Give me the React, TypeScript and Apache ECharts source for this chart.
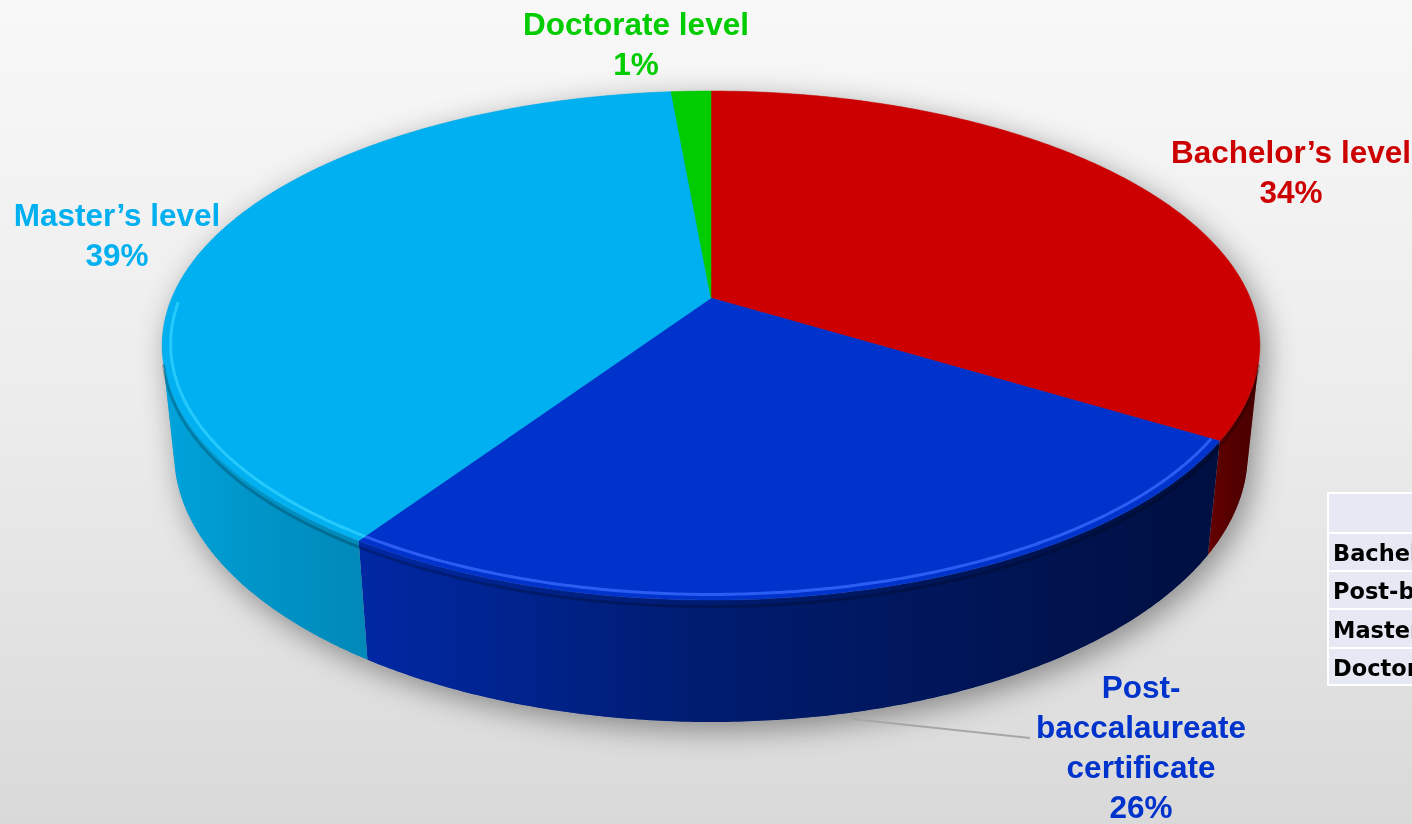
import React, { useEffect, useRef } from "react";
import * as echarts from "echarts";

// ---- data ----
const categories = ["Bachelor’s level", "Post-baccalaureate certificate", "Master’s level", "Doctorate level"];
const shares = [33.8, 25.5, 39.3, 1.4];
const labelLines = [["Bachelor’s level"], ["Post-", "baccalaureate", "certificate"], ["Master’s level"], ["Doctorate level"]];
const tableRows = ["Bachelor’s level", "Post-baccalaureate certificate", "Master’s level", "Doctorate level"];

// ---- styles / layout ----
const topColors = ["#CC0000", "#0033CC", "#00B0F0", "#00CC00"];
const labelColors = ["#CC0000", "#0033CC", "#00B0F0", "#00CC00"];
const edgeColors = ["#B80000", "#3A6CFF", "#30D0FF", "#40E040"];
const edgeOpacity = [0.0, 0.75, 0.8, 0.6];
const wallStops = [
  ["#660000", "#560000", "#480000"],
  ["#0028A4", "#001C70", "#000F40"],
  ["#00A4DC", "#0096CA", "#0088B8"],
  ["#00A000", "#009000", "#008000"],
];
const labelAnchors = [
  [1291, 132],
  [1141, 667],
  [117, 195],
  [636, 4],
];

// perspective parameters
const CX = 711, CY = 298, F = 2571, D = 4.768, SA = 0.4555, CA = Math.sqrt(1 - 0.4555 * 0.4555), H = 0.2258;
const TWO_PI = Math.PI * 2;
const VIS1 = Math.acos(-1 / (D * CA));
const VIS2 = TWO_PI - VIS1;

const total = shares.reduce((a, b) => a + b, 0);
const starts = shares.map((_, i) => shares.slice(0, i).reduce((a, b) => a + b, 0));

function proj(theta: number, y: number, r = 1): number[] {
  const X = r * Math.sin(theta);
  const Z = r * Math.cos(theta);
  const yp = y * CA + Z * SA;
  const d = Z * CA - y * SA;
  const k = F / (D + d);
  return [CX + X * k, CY - yp * k];
}

function arc(t1: number, t2: number, y: number, r = 1): number[][] {
  const n = Math.max(2, Math.ceil(Math.abs(t2 - t1) / (Math.PI / 360)));
  const pts: number[][] = [];
  for (let i = 0; i <= n; i++) {
    const t = t1 + ((t2 - t1) * i) / n;
    pts.push(proj(t, y, r));
  }
  return pts;
}

function sliceAngles(i: number, v: number) {
  const t1 = (starts[i] / total) * TWO_PI;
  const t2 = t1 + (v / total) * TWO_PI;
  return [t1, t2];
}

export default function App() {
  const ref = useRef<HTMLDivElement>(null);

  useEffect(() => {
    if (!ref.current) return;
    const chart = echarts.init(ref.current, undefined, { renderer: "svg" });

    const silhouette = [...arc(VIS2 - TWO_PI, VIS1, 0), ...arc(VIS1, VIS2, -H)];

    const graphics: any[] = [
      {
        type: "rect",
        z: 0,
        silent: true,
        shape: { x: 0, y: 0, width: 1412, height: 824 },
        style: {
          fill: new echarts.graphic.LinearGradient(0, 0, 0, 1, [
            { offset: 0, color: "#f8f8f8" },
            { offset: 0.5, color: "#ececec" },
            { offset: 1, color: "#d9d9d9" },
          ]),
        },
      },
      {
        type: "polygon",
        z: 1,
        silent: true,
        shape: { points: silhouette },
        style: {
          fill: "#9a9a9a",
          shadowBlur: 30,
          shadowColor: "rgba(0,0,0,0.4)",
          shadowOffsetX: 6,
          shadowOffsetY: 8,
        },
      },
      {
        type: "line",
        z: 5,
        silent: true,
        shape: { x1: 852, y1: 719, x2: 1030, y2: 738 },
        style: { stroke: "#a6a6a6", lineWidth: 2 },
      },
    ];

    labelLines.forEach((lines, i) => {
      const pct = Math.round((shares[i] / total) * 100);
      graphics.push({
        type: "text",
        z: 6,
        x: labelAnchors[i][0],
        y: labelAnchors[i][1],
        style: {
          text: [...lines, pct + "%"].join("\n"),
          fill: labelColors[i],
          fontSize: 31.5,
          fontWeight: "bold",
          fontFamily: "'Liberation Sans', Arial, sans-serif",
          align: "center",
          verticalAlign: "top",
          lineHeight: 40,
        },
      });
    });

    // data table (partially visible at right edge)
    const tblX = 1329;
    const rowTops = [494, 534, 572, 610, 649];
    const rowBottoms = [532, 570, 608, 647, 684];
    graphics.push({
      type: "rect",
      z: 6,
      shape: { x: tblX - 2, y: 492, width: 200, height: 194 },
      style: { fill: "#ffffff" },
    });
    rowTops.forEach((top, r) => {
      graphics.push({
        type: "rect",
        z: 7,
        shape: { x: tblX, y: top, width: 200, height: rowBottoms[r] - top },
        style: { fill: "#E6E8F4" },
      });
      if (r > 0) {
        graphics.push({
          type: "text",
          z: 8,
          x: tblX + 4,
          y: (top + rowBottoms[r]) / 2 + 1,
          style: {
            text: tableRows[r - 1],
            fill: "#000000",
            fontSize: 22.5,
            fontWeight: "bold",
            fontFamily: "'DejaVu Sans', Verdana, sans-serif",
            align: "left",
            verticalAlign: "middle",
          },
        });
      }
    });

    const data = shares.map((v, i) => ({ value: v, name: categories[i] }));

    chart.setOption({
      animation: false,
      graphic: { elements: graphics },
      series: [
        {
          type: "custom",
          name: "walls",
          coordinateSystem: "none",
          z: 2,
          silent: true,
          data,
          renderItem: (params: any, api: any) => {
            const i = params.dataIndex;
            const [t1, t2] = sliceAngles(i, api.value(0));
            const a = Math.max(t1, VIS1);
            const b = Math.min(t2, VIS2);
            if (b <= a) return { type: "group", children: [] };
            const pts = [...arc(a, b, 0), ...arc(b, a, -H)];
            const st = wallStops[i];
            return {
              type: "polygon",
              shape: { points: pts },
              style: {
                fill: new echarts.graphic.LinearGradient(0, 0, 1, 0, [
                  { offset: 0, color: st[0] },
                  { offset: 0.4, color: st[1] },
                  { offset: 1, color: st[2] },
                ]),
              },
            };
          },
        },
        {
          type: "custom",
          name: "tops",
          coordinateSystem: "none",
          z: 3,
          silent: true,
          data,
          renderItem: (params: any, api: any) => {
            const i = params.dataIndex;
            const [t1, t2] = sliceAngles(i, api.value(0));
            const children: any[] = [
              {
                type: "polygon",
                shape: { points: [[CX, CY], ...arc(t1, t2, 0)] },
                style: { fill: topColors[i], stroke: topColors[i], lineWidth: 0.5 },
              },
            ];
            const a = Math.max(t1, VIS1);
            const b = Math.min(t2, VIS2 + 0.22);
            if (b > a && edgeOpacity[i] > 0) {
              children.push({
                type: "polyline",
                shape: { points: arc(a, b, 0, 0.985) },
                style: { stroke: edgeColors[i], lineWidth: 3, opacity: edgeOpacity[i], fill: null },
              });
            }
            const a2 = Math.max(t1, VIS1);
            const b2 = Math.min(t2, VIS2);
            if (b2 > a2) {
              children.push({
                type: "polyline",
                shape: { points: arc(a2, b2, -0.012) },
                style: { stroke: "rgba(0,0,0,0.22)", lineWidth: 3, fill: null },
              });
            }
            return { type: "group", children };
          },
        },
      ],
    });

    return () => chart.dispose();
  }, []);

  return (
    <div
      ref={ref}
      style={{ position: "fixed", left: 0, top: 0, width: 1412, height: 824 }}
    />
  );
}
